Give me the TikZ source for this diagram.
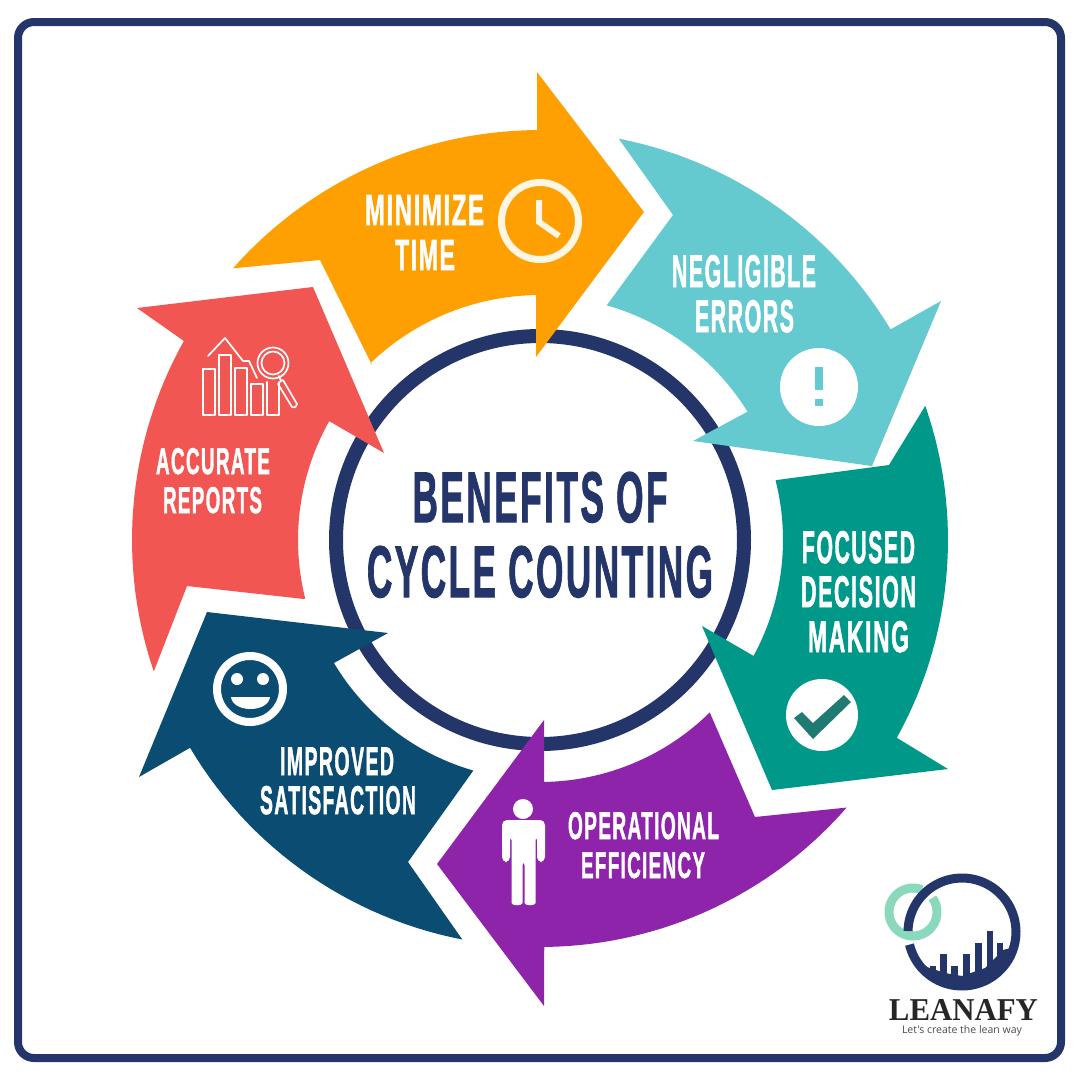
\documentclass[tikz,border=0pt]{standalone}
\usepackage{fontspec}
\usepackage{graphicx}
\setmainfont{Liberation Sans}
\newfontfamily\condfont[FakeBold=1.8,LetterSpace=7]{Liberation Sans Bold}
\newfontfamily\logofont{Liberation Serif Bold}
\newfontfamily\tagfont{Open Sans}
\definecolor{framenavy}{HTML}{24356A}
\definecolor{arrorange}{HTML}{FFA002}
\definecolor{arrteal}{HTML}{65C9D0}
\definecolor{arrgreen}{HTML}{009889}
\definecolor{arrpurple}{HTML}{8E24AA}
\definecolor{arrblue}{HTML}{0B4C73}
\definecolor{arrred}{HTML}{F25652}
\definecolor{cream}{HTML}{FFF5E3}
\definecolor{logomint}{HTML}{8AD9BC}
\definecolor{checkdark}{HTML}{1F7A72}
\newcommand{\fit}[3]{\resizebox{#1pt}{#2pt}{\condfont #3}}
\tikzset{
  lbl/.style={anchor=base,inner sep=0pt,outer sep=0pt,text=white},
  ttl/.style={anchor=base,inner sep=0pt,outer sep=0pt,text=framenavy},
  ol/.style={draw=white,line width=1.7pt,line join=round,line cap=round},
}
\begin{document}
\begin{tikzpicture}[x=1pt,y=-1pt]
\useasboundingbox (0,0) rectangle (1080,1080);
\fill[white] (0,0) rectangle (1080,1080);
% frame
\draw[framenavy,line width=8pt,rounded corners=16pt] (18,22) rectangle (1061,1058);
% ring
\draw[framenavy,line width=14pt] (540,540) circle[radius=204];
% orange
\fill[arrorange] plot[domain=221.5:269.6,samples=30] ({540+410*cos(\x)},{540+410*sin(\x)})
 -- (537,72) -- (644,212) -- (536,357) -- (536,293)
 -- plot[domain=269:226.2,samples=30] ({540+245*cos(\x)},{540+245*sin(\x)})
 -- (372,365) -- (320,260) -- cycle;
% teal
\fill[arrteal] plot[domain=281.1:329,samples=30] ({540+409*cos(\x)},{540+409*sin(\x)})
 -- (941,301) -- (872,466) -- (693,441) -- (747,412)
 -- plot[domain=328.3:285.8,samples=30] ({540+244*cos(\x)},{540+244*sin(\x)})
 -- (607,305) -- (673,215) -- cycle;
% green
\fill[arrgreen] plot[domain=340.8:389,samples=30] ({540+408*cos(\x)},{540+408*sin(\x)})
 -- (948,769) -- (772,790) -- (702,626) -- (752,655)
 -- plot[domain=388.5:345.8,samples=30] ({540+243*cos(\x)},{540+243*sin(\x)})
 -- (777,480) -- (889,465) -- cycle;
% purple
\fill[arrpurple] plot[domain=41.1:89.4,samples=30] ({540+407*cos(\x)},{540+407*sin(\x)})
 -- (544,1006) -- (437,864) -- (544,720) -- (544,781)
 -- plot[domain=89:45.5,samples=30] ({540+242*cos(\x)},{540+242*sin(\x)})
 -- (710,713) -- (755,817) -- cycle;
% blue
\fill[arrblue] plot[domain=101:149.3,samples=30] ({540+407*cos(\x)},{540+407*sin(\x)})
 -- (139,777) -- (207,612) -- (388,633) -- (334,663)
 -- plot[domain=149.2:106.2,samples=30] ({540+240*cos(\x)},{540+240*sin(\x)})
 -- (473,771) -- (408,862) -- cycle;
% red
\fill[arrred] plot[domain=161.2:209.2,samples=30] ({540+408*cos(\x)},{540+408*sin(\x)})
 -- (137,308) -- (313,287) -- (384,453) -- (329,421)
 -- plot[domain=209.4:166,samples=30] ({540+242*cos(\x)},{540+242*sin(\x)})
 -- (304,599) -- (187,586) -- cycle;
% title
\node[ttl] (title1) at (540,522) {\fit{255}{50}{BENEFITS OF}};
\node[ttl] (title2) at (540,597) {\fit{346}{51}{CYCLE COUNTING}};
% labels
\node[lbl] (min1) at (424.5,225) {\fit{119}{30}{MINIMIZE}};
\node[lbl] (min2) at (425,270) {\fit{60}{30}{TIME}};
\node[lbl] (neg1) at (744,287) {\fit{144}{32}{NEGLIGIBLE}};
\node[lbl] (neg2) at (744.5,332) {\fit{99}{32}{ERRORS}};
\node[lbl] (foc1) at (858.5,563) {\fit{113}{32}{FOCUSED}};
\node[lbl] (foc2) at (858.5,607) {\fit{115}{31}{DECISION}};
\node[lbl] (foc3) at (858.5,652) {\fit{101}{31}{MAKING}};
\node[lbl] (op1) at (643.5,839) {\fit{151}{27}{OPERATIONAL}};
\node[lbl] (op2) at (643,878) {\fit{124}{26}{EFFICIENCY}};
\node[lbl] (imp1) at (337,775) {\fit{114}{28}{IMPROVED}};
\node[lbl] (imp2) at (338,814) {\fit{156}{28}{SATISFACTION}};
\node[lbl] (acc1) at (213,474) {\fit{114}{26}{ACCURATE}};
\node[lbl] (acc2) at (212.5,513) {\fit{99}{26}{REPORTS}};
% clock
\draw[cream,line width=7pt] (540,221) circle[radius=38.5];
\draw[cream,line width=6pt,line join=miter] (539,200) -- (539,222) -- (559,236);
% exclamation
\fill[white] (819,387) circle[radius=39];
\fill[arrteal] (815,367) rectangle (823,390);
\fill[arrteal] (815,399) rectangle (823,406);
% check
\fill[white] (822,715) circle[radius=36];
\fill[checkdark] (794,718) -- (802,712) -- (813,723) -- (844,695) -- (851,702) -- (813,739) -- cycle;
% person
\fill[white] (523,809) circle[radius=10];
\fill[white,rounded corners=5pt] (502,862) -- (502,820) -- (545,820) -- (545,862) -- (537,862) -- (537,835) -- (535.5,835) -- (535.5,898)
  .. controls (535.5,906) and (524.5,906) .. (524.5,898) -- (524.5,860) -- (522.5,860) -- (522.5,898)
  .. controls (522.5,906) and (511.5,906) .. (511.5,898) -- (511.5,835) -- (510,835) -- (510,862) -- cycle;
% smiley
\draw[white,line width=8pt] (250,689) circle[radius=33];
\fill[white] (237,679) circle[radius=6];
\fill[white] (263,679) circle[radius=6];
\fill[white] (231,697) .. controls (233,713) and (268,713) .. (270,697) -- cycle;
% chart icon
\draw[ol] (203,369) rectangle (215,415);
\draw[ol] (219,355) rectangle (231,415);
\draw[ol] (235,368) rectangle (247,415);
\draw[ol] (251,384) rectangle (263,415);
\draw[ol] (267,382) -- (267,415) -- (279,415) -- (279,382);
\draw[ol] (208,356) -- (225,338) -- (243,361) -- (249,361) -- (257,378);
\draw[ol] (273,363) circle[radius=15.5];
\draw[ol] (273,363) circle[radius=11.5];
\draw[ol] (279,376) -- (281,381) -- (283,380) -- (297,404) .. controls (296,408) and (293,408) .. (292,407) -- (278,384) -- (280,382);
% logo
\begin{scope}
\clip (962,932) circle[radius=55];
\fill[framenavy] (929.5,966) rectangle (935.5,1000);
\fill[framenavy] (940,954) rectangle (947,1000);
\fill[framenavy] (950.5,966) rectangle (957.5,1000);
\fill[framenavy] (963,954) rectangle (969.5,1000);
\fill[framenavy] (975,943) rectangle (981.5,1000);
\fill[framenavy] (986.5,931) rectangle (992.5,1000);
\fill[framenavy] (997,943) rectangle (1003,1000);
\fill[framenavy] (924,966) -- (945,973) -- (962,976) -- (985,968) -- (1003,950) -- (1022,945) -- (1022,1000) -- (924,1000) -- cycle;
\end{scope}
\draw[logomint,line width=9pt] plot[domain=-36:292,samples=60] ({913+24*cos(\x)},{912+24*sin(\x)});
\draw[framenavy,line width=9pt] plot[domain=181:526.5,samples=90] ({962+54*cos(\x)},{932+54*sin(\x)});
\node[anchor=base,inner sep=0pt,text=black!85] (logo) at (963.5,1020) {\resizebox{149pt}{21pt}{\logofont LEANAFY}};
\node[anchor=base,inner sep=0pt,text=black!70] (tag) at (962,1033) {\resizebox{120pt}{!}{\tagfont Let's create the lean way}};
\end{tikzpicture}
\end{document}
